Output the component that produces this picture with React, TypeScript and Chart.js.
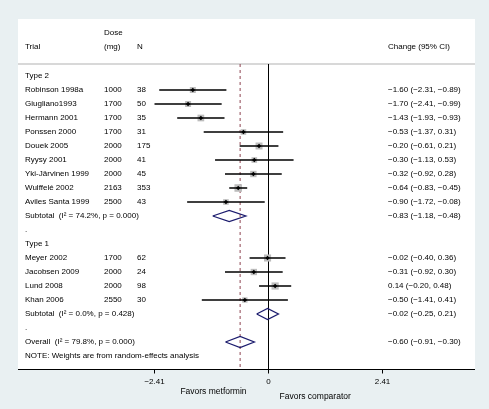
import React, { useEffect, useRef } from "react";
import { Chart, registerables } from "chart.js";

Chart.register(...registerables);

// ---------------- data ----------------
const GROUP_NAMES = ["Type 2", "Type 1"];

const TYPE2_TRIALS = [
  "Robinson 1998a",
  "Giugliano1993",
  "Hermann 2001",
  "Ponssen 2000",
  "Douek 2005",
  "Ryysy 2001",
  "Yki-Järvinen 1999",
  "Wulffelé 2002",
  "Aviles Santa 1999",
];
const TYPE2_DOSE = [1000, 1700, 1700, 1700, 2000, 2000, 2000, 2163, 2500];
const TYPE2_N = [38, 50, 35, 31, 175, 41, 45, 353, 43];
const TYPE2_EST = [-1.6, -1.7, -1.43, -0.53, -0.2, -0.3, -0.32, -0.64, -0.9];
const TYPE2_LO = [-2.31, -2.41, -1.93, -1.37, -0.61, -1.13, -0.92, -0.83, -1.72];
const TYPE2_HI = [-0.89, -0.99, -0.93, 0.31, 0.21, 0.53, 0.28, -0.45, -0.08];
const TYPE2_WEIGHT = [6.8, 6.8, 8.5, 5.9, 9.2, 6.0, 7.7, 10.8, 6.0];

const TYPE1_TRIALS = ["Meyer 2002", "Jacobsen 2009", "Lund 2008", "Khan 2006"];
const TYPE1_DOSE = [1700, 2000, 2000, 2550];
const TYPE1_N = [62, 24, 98, 30];
const TYPE1_EST = [-0.02, -0.31, 0.14, -0.5];
const TYPE1_LO = [-0.4, -0.92, -0.2, -1.41];
const TYPE1_HI = [0.36, 0.3, 0.48, 0.41];
const TYPE1_WEIGHT = [9.5, 7.6, 9.8, 5.4];

const SUBTOTAL_I2 = [74.2, 0.0];
const SUBTOTAL_P = [0.0, 0.428];
const SUBTOTAL_EST = [-0.83, -0.02];
const SUBTOTAL_LO = [-1.18, -0.25];
const SUBTOTAL_HI = [-0.48, 0.21];

const OVERALL_I2 = 79.8;
const OVERALL_P = 0.0;
const OVERALL_EST = -0.6;
const OVERALL_LO = -0.91;
const OVERALL_HI = -0.3;

const AXIS_TICKS = [-2.41, 0, 2.41];
const HEADER_TOP = ["", "Dose", "", ""];
const HEADER_BOTTOM = ["Trial", "(mg)", "N", "Change (95% CI)"];
const NOTE_TEXT = "NOTE: Weights are from random-effects analysis";
const FAVORS_LEFT = "Favors metformin";
const FAVORS_RIGHT = "Favors comparator";

// ---------------- layout / style ----------------
const W = 489;
const H = 409;
const PAD = { left: 18, right: 14, top: 64, bottom: 40 };
const PX_PER_UNIT = 114 / 2.41;
const ZERO_PX = 268.5; // pixel of x = 0 (for layout of the range)
const X_MIN = -(ZERO_PX - PAD.left) / PX_PER_UNIT;
const X_MAX = (W - PAD.right - ZERO_PX) / PX_PER_UNIT;
const ROW_H = 14;
const FIRST_ROW_PX = 76;
const Y_MIN = -(FIRST_ROW_PX - PAD.top) / ROW_H;
const Y_MAX = Y_MIN + (H - PAD.bottom - PAD.top) / ROW_H;
const PANEL_TOP = 19;
const HEADER_Y = [33, 47];
const COL_X = [25, 104, 137, 388];

const BG = "#e9f0f2";
const TEXT = "#000000";
const FONT = '8px "Liberation Sans", Arial, Helvetica, sans-serif';
const FONT_AXIS = '8.5px "Liberation Sans", Arial, Helvetica, sans-serif';
const BOX_K = 2.3;
const DIAMOND_HALF = 0.4;

// ---------------- rows ----------------
type Row = {
  kind: "group" | "trial" | "subtotal" | "blank" | "overall" | "note";
  label: string;
  dose?: number;
  n?: number;
  est?: number;
  lo?: number;
  hi?: number;
  w?: number;
};

const fmt = (v: number) => v.toFixed(2).replace("-", "\u2212");

function buildRows(): Row[] {
  const rows: Row[] = [];
  const groups = [
    { trials: TYPE2_TRIALS, dose: TYPE2_DOSE, n: TYPE2_N, est: TYPE2_EST, lo: TYPE2_LO, hi: TYPE2_HI, w: TYPE2_WEIGHT },
    { trials: TYPE1_TRIALS, dose: TYPE1_DOSE, n: TYPE1_N, est: TYPE1_EST, lo: TYPE1_LO, hi: TYPE1_HI, w: TYPE1_WEIGHT },
  ];
  groups.forEach((g, gi) => {
    rows.push({ kind: "group", label: GROUP_NAMES[gi] });
    g.trials.forEach((t, i) =>
      rows.push({ kind: "trial", label: t, dose: g.dose[i], n: g.n[i], est: g.est[i], lo: g.lo[i], hi: g.hi[i], w: g.w[i] })
    );
    rows.push({
      kind: "subtotal",
      label: `Subtotal  (I\u00B2 = ${SUBTOTAL_I2[gi].toFixed(1)}%, p = ${SUBTOTAL_P[gi].toFixed(3)})`,
      est: SUBTOTAL_EST[gi],
      lo: SUBTOTAL_LO[gi],
      hi: SUBTOTAL_HI[gi],
    });
    rows.push({ kind: "blank", label: "." });
  });
  rows.push({
    kind: "overall",
    label: `Overall  (I\u00B2 = ${OVERALL_I2.toFixed(1)}%, p = ${OVERALL_P.toFixed(3)})`,
    est: OVERALL_EST,
    lo: OVERALL_LO,
    hi: OVERALL_HI,
  });
  rows.push({ kind: "note", label: NOTE_TEXT });
  return rows;
}

const ROWS = buildRows();

const forestPlugin = {
  id: "forestText",
  beforeDraw(chart: any) {
    const { ctx, chartArea: a } = chart;
    ctx.save();
    ctx.fillStyle = BG;
    ctx.fillRect(0, 0, chart.width, chart.height);
    ctx.fillStyle = "#ffffff";
    ctx.fillRect(a.left, PANEL_TOP, a.right - a.left, a.bottom - PANEL_TOP);
    ctx.strokeStyle = "#d8d8d8";
    ctx.lineWidth = 2;
    ctx.beginPath();
    ctx.moveTo(a.left, a.top);
    ctx.lineTo(a.right, a.top);
    ctx.stroke();
    ctx.restore();
  },
  afterDraw(chart: any) {
    const { ctx, chartArea: a } = chart;
    const xs = chart.scales.x;
    const ys = chart.scales.y;
    ctx.save();
    ctx.fillStyle = TEXT;
    ctx.font = FONT;
    ctx.textBaseline = "middle";
    ctx.textAlign = "left";
    // header
    HEADER_TOP.forEach((t, i) => t && ctx.fillText(t, COL_X[i], HEADER_Y[0]));
    HEADER_BOTTOM.forEach((t, i) => t && ctx.fillText(t, COL_X[i], HEADER_Y[1]));
    // rows
    ROWS.forEach((r, i) => {
      const y = ys.getPixelForValue(i);
      ctx.fillText(r.label, COL_X[0], y);
      if (r.kind === "trial") {
        ctx.fillText(String(r.dose), COL_X[1], y);
        ctx.fillText(String(r.n), COL_X[2], y);
      }
      if (r.est !== undefined) {
        ctx.fillText(`${fmt(r.est)} (${fmt(r.lo!)}, ${fmt(r.hi!)})`, COL_X[3], y);
      }
    });
    // x axis
    const by = Math.round(a.bottom) + 0.5;
    ctx.strokeStyle = "#000";
    ctx.lineWidth = 1;
    ctx.beginPath();
    ctx.moveTo(a.left, by);
    ctx.lineTo(a.right, by);
    AXIS_TICKS.forEach((t) => {
      const x = xs.getPixelForValue(t);
      ctx.moveTo(x, by);
      ctx.lineTo(x, by + 4);
    });
    ctx.stroke();
    ctx.textAlign = "center";
    AXIS_TICKS.forEach((t) => {
      const x = xs.getPixelForValue(t);
      ctx.fillText(t === 0 ? "0" : fmt(t), x, by + 12);
    });
    const x0 = xs.getPixelForValue(0);
    ctx.font = FONT_AXIS;
    ctx.textAlign = "right";
    ctx.fillText(FAVORS_LEFT, x0 - 22, by + 22);
    ctx.textAlign = "left";
    ctx.fillText(FAVORS_RIGHT, x0 + 11, by + 27);
    ctx.restore();
  },
};

function buildConfig(): any {
  const gap = { x: NaN, y: NaN };
  const ciLines: any[] = [];
  const boxes: any[] = [];
  const boxRadius: number[] = [];
  const markers: any[] = [];
  const diamonds: any[] = [];
  ROWS.forEach((r, i) => {
    if (r.kind === "trial") {
      ciLines.push({ x: r.lo, y: i }, { x: r.hi, y: i }, gap);
      boxes.push({ x: r.est, y: i });
      boxRadius.push((BOX_K * Math.sqrt(r.w!)) / Math.SQRT2);
      markers.push({ x: r.est, y: i });
    } else if (r.kind === "subtotal" || r.kind === "overall") {
      diamonds.push(
        { x: r.lo, y: i },
        { x: r.est, y: i - DIAMOND_HALF },
        { x: r.hi, y: i },
        { x: r.est, y: i + DIAMOND_HALF },
        { x: r.lo, y: i },
        gap
      );
    }
  });

  return {
    type: "scatter",
    data: {
      datasets: [
        {
          label: "null line",
          data: [
            { x: 0, y: Y_MIN },
            { x: 0, y: Y_MAX },
          ],
          showLine: true,
          borderColor: "#000",
          borderWidth: 1,
          pointRadius: 0,
          clip: false,
          order: 7,
        },
        {
          label: "overall line",
          data: [
            { x: OVERALL_EST, y: Y_MIN },
            { x: OVERALL_EST, y: Y_MAX },
          ],
          showLine: true,
          borderColor: "#8e4452",
          borderWidth: 1,
          borderDash: [3, 3],
          pointRadius: 0,
          clip: false,
          order: 6,
        },
        {
          label: "weights",
          data: boxes,
          pointStyle: "rect",
          pointRadius: boxRadius,
          backgroundColor: "#bdbdbd",
          borderWidth: 0,
          clip: false,
          order: 5,
        },
        {
          label: "ci",
          data: ciLines,
          showLine: true,
          spanGaps: false,
          borderColor: "#000",
          borderWidth: 1.5,
          pointRadius: 0,
          clip: false,
          order: 4,
        },
        {
          label: "estimates",
          data: markers,
          pointStyle: "rectRot",
          pointRadius: 2.2,
          backgroundColor: "#000",
          borderColor: "#000",
          borderWidth: 0,
          clip: false,
          order: 3,
        },
        {
          label: "pooled",
          data: diamonds,
          showLine: true,
          spanGaps: false,
          borderColor: "#1c1c6e",
          borderWidth: 1.3,
          pointRadius: 0,
          fill: false,
          clip: false,
          order: 2,
        },
      ],
    },
    options: {
      animation: false,
      responsive: false,
      devicePixelRatio: 1,
      events: [],
      layout: { padding: PAD },
      plugins: { legend: { display: false }, tooltip: { enabled: false } },
      scales: {
        x: { type: "linear", min: X_MIN, max: X_MAX, display: false },
        y: { type: "linear", min: Y_MIN, max: Y_MAX, reverse: true, display: false },
      },
    },
    plugins: [forestPlugin],
  };
}

export default function App() {
  const ref = useRef<HTMLCanvasElement>(null);
  useEffect(() => {
    const chart = new Chart(ref.current as HTMLCanvasElement, buildConfig());
    return () => chart.destroy();
  }, []);
  return (
    <canvas
      ref={ref}
      width={W}
      height={H}
      style={{ position: "fixed", left: 0, top: 0, width: W, height: H, display: "block" }}
    />
  );
}
